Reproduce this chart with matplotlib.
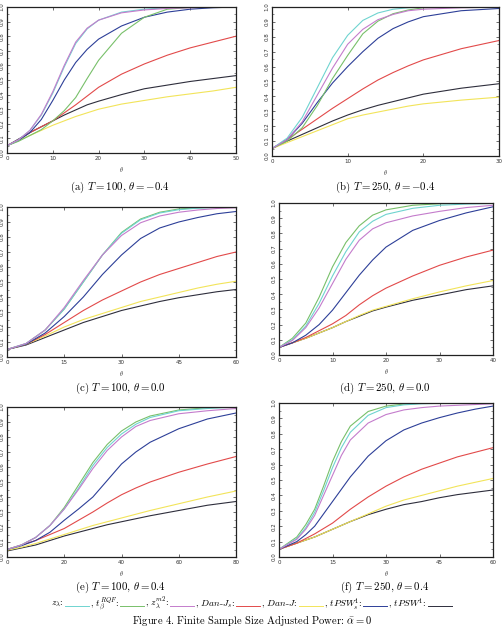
import matplotlib
matplotlib.use("Agg")
import matplotlib.pyplot as plt
from matplotlib.lines import Line2D
from matplotlib.ticker import MultipleLocator

plt.rcParams['mathtext.fontset'] = 'cm'
plt.rcParams['font.family'] = ['DejaVu Sans']

# ---------------- data ----------------
# (a) T=100, theta=-0.4
a_x = [0, 2.5, 5, 7.5, 10, 12.5, 15, 17.5, 20, 25, 30, 35, 40, 45, 50]
a_zl = [0.05, 0.09, 0.155, 0.26, 0.41, 0.59, 0.75, 0.85, 0.91, 0.965, 0.985, 0.995, 1.0, 1.0, 1.0]
a_trqf = [0.05, 0.08, 0.12, 0.16, 0.22, 0.29, 0.38, 0.51, 0.635, 0.82, 0.93, 0.985, 0.997, 1.0, 1.0]
a_zm2 = [0.05, 0.09, 0.155, 0.265, 0.42, 0.60, 0.76, 0.855, 0.91, 0.96, 0.98, 0.99, 0.995, 1.0, 1.0]
a_danjs = [0.05, 0.09, 0.14, 0.18, 0.22, 0.275, 0.33, 0.39, 0.45, 0.54, 0.61, 0.67, 0.72, 0.76, 0.80]
a_danj = [0.05, 0.085, 0.12, 0.155, 0.19, 0.22, 0.25, 0.275, 0.30, 0.335, 0.36, 0.385, 0.405, 0.425, 0.45]
a_tpsws = [0.05, 0.085, 0.14, 0.23, 0.36, 0.50, 0.62, 0.71, 0.78, 0.87, 0.93, 0.965, 0.985, 0.995, 1.0]
a_tpsw = [0.05, 0.095, 0.14, 0.18, 0.22, 0.26, 0.295, 0.33, 0.355, 0.40, 0.44, 0.465, 0.49, 0.51, 0.53]

# (b) T=250, theta=-0.4
b_x = [0, 2, 4, 6, 8, 10, 12, 14, 16, 18, 20, 25, 30]
b_zl = [0.05, 0.12, 0.26, 0.46, 0.66, 0.81, 0.91, 0.96, 0.985, 0.995, 1.0, 1.0, 1.0]
b_trqf = [0.05, 0.10, 0.19, 0.34, 0.52, 0.675, 0.82, 0.905, 0.955, 0.98, 0.995, 1.0, 1.0]
b_zm2 = [0.05, 0.11, 0.23, 0.41, 0.59, 0.75, 0.85, 0.915, 0.95, 0.975, 0.985, 0.995, 1.0]
b_danjs = [0.05, 0.11, 0.18, 0.25, 0.32, 0.385, 0.45, 0.51, 0.56, 0.605, 0.645, 0.72, 0.775]
b_danj = [0.05, 0.09, 0.13, 0.17, 0.21, 0.25, 0.275, 0.295, 0.315, 0.335, 0.35, 0.375, 0.395]
b_tpsws = [0.05, 0.11, 0.22, 0.36, 0.49, 0.60, 0.70, 0.79, 0.855, 0.90, 0.935, 0.975, 0.99]
b_tpsw = [0.05, 0.10, 0.145, 0.19, 0.235, 0.275, 0.31, 0.34, 0.365, 0.39, 0.415, 0.455, 0.485]

# (c) T=100, theta=0.0
c_x = [0, 5, 10, 15, 20, 25, 30, 35, 40, 45, 50, 55, 60]
c_zl = [0.05, 0.09, 0.18, 0.32, 0.50, 0.68, 0.825, 0.915, 0.96, 0.982, 0.992, 0.997, 1.0]
c_trqf = [0.05, 0.09, 0.18, 0.32, 0.50, 0.68, 0.83, 0.92, 0.965, 0.987, 0.995, 1.0, 1.0]
c_zm2 = [0.05, 0.09, 0.18, 0.33, 0.51, 0.68, 0.81, 0.895, 0.94, 0.965, 0.98, 0.99, 0.995]
c_danjs = [0.05, 0.085, 0.15, 0.23, 0.31, 0.38, 0.44, 0.50, 0.55, 0.59, 0.63, 0.67, 0.70]
c_danj = [0.05, 0.085, 0.14, 0.20, 0.25, 0.29, 0.33, 0.37, 0.40, 0.43, 0.46, 0.485, 0.505]
c_tpsws = [0.05, 0.085, 0.16, 0.27, 0.40, 0.55, 0.68, 0.79, 0.86, 0.90, 0.93, 0.955, 0.97]
c_tpsw = [0.05, 0.08, 0.13, 0.18, 0.23, 0.27, 0.31, 0.34, 0.37, 0.395, 0.415, 0.435, 0.45]

# (d) T=250, theta=0.0
d_x = [0, 2.5, 5, 7.5, 10, 12.5, 15, 17.5, 20, 25, 30, 35, 40]
d_zl = [0.05, 0.10, 0.19, 0.34, 0.52, 0.68, 0.81, 0.88, 0.925, 0.965, 0.985, 0.993, 0.997]
d_trqf = [0.05, 0.11, 0.21, 0.38, 0.58, 0.74, 0.85, 0.92, 0.955, 0.985, 0.995, 1.0, 1.0]
d_zm2 = [0.05, 0.095, 0.18, 0.31, 0.47, 0.63, 0.755, 0.83, 0.87, 0.915, 0.945, 0.97, 0.985]
d_danjs = [0.05, 0.08, 0.115, 0.16, 0.205, 0.26, 0.33, 0.39, 0.44, 0.52, 0.59, 0.645, 0.69]
d_danj = [0.05, 0.08, 0.11, 0.145, 0.18, 0.22, 0.26, 0.295, 0.32, 0.37, 0.415, 0.455, 0.49]
d_tpsws = [0.05, 0.08, 0.13, 0.20, 0.295, 0.41, 0.525, 0.625, 0.71, 0.82, 0.885, 0.935, 0.975]
d_tpsw = [0.05, 0.08, 0.11, 0.145, 0.18, 0.22, 0.255, 0.29, 0.315, 0.36, 0.395, 0.43, 0.455]

# (e) T=100, theta=0.4
e_x = [0, 5, 10, 15, 20, 25, 30, 35, 40, 45, 50, 60, 70, 80]
e_zl = [0.05, 0.08, 0.13, 0.21, 0.32, 0.46, 0.61, 0.73, 0.82, 0.885, 0.93, 0.975, 0.99, 1.0]
e_trqf = [0.05, 0.08, 0.13, 0.21, 0.33, 0.48, 0.63, 0.75, 0.84, 0.90, 0.94, 0.98, 0.995, 1.0]
e_zm2 = [0.05, 0.08, 0.13, 0.21, 0.32, 0.45, 0.59, 0.71, 0.80, 0.87, 0.91, 0.955, 0.975, 0.99]
e_danjs = [0.05, 0.08, 0.11, 0.15, 0.19, 0.245, 0.30, 0.36, 0.415, 0.46, 0.50, 0.565, 0.62, 0.67]
e_danj = [0.045, 0.065, 0.09, 0.12, 0.15, 0.18, 0.21, 0.235, 0.26, 0.285, 0.31, 0.355, 0.40, 0.44]
e_tpsws = [0.05, 0.075, 0.11, 0.165, 0.245, 0.32, 0.40, 0.51, 0.62, 0.70, 0.765, 0.855, 0.92, 0.96]
e_tpsw = [0.04, 0.06, 0.08, 0.11, 0.14, 0.165, 0.19, 0.215, 0.235, 0.255, 0.275, 0.31, 0.345, 0.37]

# (f) T=250, theta=0.4
f_x = [0, 5, 7.5, 10, 12.5, 15, 17.5, 20, 25, 30, 35, 40, 45, 50, 55, 60]
f_zl = [0.05, 0.12, 0.19, 0.29, 0.43, 0.58, 0.71, 0.81, 0.92, 0.97, 0.988, 0.995, 0.998, 1.0, 1.0, 1.0]
f_trqf = [0.05, 0.13, 0.21, 0.31, 0.46, 0.62, 0.75, 0.85, 0.945, 0.98, 0.993, 0.998, 1.0, 1.0, 1.0, 1.0]
f_zm2 = [0.05, 0.115, 0.18, 0.27, 0.40, 0.53, 0.66, 0.76, 0.87, 0.925, 0.955, 0.97, 0.98, 0.985, 0.99, 0.995]
f_danjs = [0.05, 0.09, 0.12, 0.15, 0.185, 0.22, 0.265, 0.31, 0.39, 0.46, 0.52, 0.57, 0.61, 0.65, 0.68, 0.71]
f_danj = [0.05, 0.09, 0.11, 0.13, 0.155, 0.18, 0.205, 0.23, 0.28, 0.33, 0.37, 0.40, 0.43, 0.46, 0.485, 0.51]
f_tpsws = [0.05, 0.10, 0.145, 0.20, 0.28, 0.36, 0.44, 0.52, 0.655, 0.755, 0.825, 0.87, 0.905, 0.935, 0.96, 0.98]
f_tpsw = [0.05, 0.09, 0.11, 0.13, 0.155, 0.18, 0.205, 0.23, 0.275, 0.31, 0.34, 0.36, 0.385, 0.405, 0.42, 0.435]

x_maxes = [50, 30, 60, 40, 80, 60]
x_steps = [10, 10, 15, 10, 20, 15]
captions = [r"(a) $T = 100,\, \theta = -0.4$", r"(b) $T = 250,\, \theta = -0.4$",
            r"(c) $T = 100,\, \theta = 0.0$", r"(d) $T = 250,\, \theta = 0.0$",
            r"(e) $T = 100,\, \theta = 0.4$", r"(f) $T = 250,\, \theta = 0.4$"]

legend_labels = [r"$z_{\lambda}$:", r", $t_{\beta}^{RQF}$:", r", $z_{\lambda}^{m2}$:",
                 r", $Dan$-$J_s$:", r", $Dan$-$J$:", r", $tPSW_s^1$:", r", $tPSW^1$:"]

# ---------------- styling ----------------
col_zl = '#6fd4d0'
col_trqf = '#78c06a'
col_zm2 = '#c47ccc'
col_danjs = '#e24a4a'
col_danj = '#f2e45a'
col_tpsws = '#2d3f98'
col_tpsw = '#2e2e3c'
colors = [col_zl, col_trqf, col_zm2, col_danjs, col_danj, col_tpsws, col_tpsw]

W, H = 504, 628
fig = plt.figure(figsize=(W / 100, H / 100), dpi=100)

# axes boxes in pixels: left, right, top, bottom
boxes = [(7, 236, 7, 153), (272, 499, 7, 156),
         (7, 236, 207, 357), (279, 493, 203, 355),
         (7, 236, 407, 557), (279, 493, 403, 557)]
cap_pos = [(120, 187), (385, 187), (120, 388), (385, 388), (120, 587), (385, 587)]

panels = [
    (a_x, [a_zl, a_trqf, a_zm2, a_danjs, a_danj, a_tpsws, a_tpsw]),
    (b_x, [b_zl, b_trqf, b_zm2, b_danjs, b_danj, b_tpsws, b_tpsw]),
    (c_x, [c_zl, c_trqf, c_zm2, c_danjs, c_danj, c_tpsws, c_tpsw]),
    (d_x, [d_zl, d_trqf, d_zm2, d_danjs, d_danj, d_tpsws, d_tpsw]),
    (e_x, [e_zl, e_trqf, e_zm2, e_danjs, e_danj, e_tpsws, e_tpsw]),
    (f_x, [f_zl, f_trqf, f_zm2, f_danjs, f_danj, f_tpsws, f_tpsw]),
]
# drawing order: lower curves first so top ones lie over
order = [6, 4, 3, 5, 1, 0, 2]

for i, (xs, series) in enumerate(panels):
    l, r, t, b = boxes[i]
    ax = fig.add_axes([l / W, 1 - b / H, (r - l) / W, (b - t) / H])
    for k in order:
        ax.plot(xs, series[k], color=colors[k], lw=0.8)
    ax.set_xlim(0, x_maxes[i])
    ax.set_ylim(0, 1)
    ax.xaxis.set_major_locator(MultipleLocator(x_steps[i]))
    ax.yaxis.set_major_locator(MultipleLocator(0.1))
    ax.yaxis.set_minor_locator(MultipleLocator(0.05))
    ax.tick_params(which='both', direction='in', top=True, right=True,
                   labelsize=4, colors='#333333', pad=2)
    ax.tick_params(which='major', length=2.5, width=0.5)
    ax.tick_params(which='minor', length=1.5, width=0.4)
    ax.set_yticklabels([f"{v:.1f}" for v in ax.get_yticks()], rotation=90, va='center')
    for s in ax.spines.values():
        s.set_linewidth(0.9)
        s.set_color('#222222')
    ax.set_xlabel(r"$\theta$", fontsize=4.5, labelpad=3, color='#333333')
    cx, cy = cap_pos[i]
    fig.text(cx / W, 1 - cy / H, captions[i], ha='center', va='center',
             fontsize=7.8, family='cmr10')

# ---------------- legend row ----------------
fig.canvas.draw()
renderer = fig.canvas.get_renderer()
leg_y = 1 - 604 / H
line_len = 24
gap = 1
pieces = []
xpos = 0.0
for lab in legend_labels:
    t = fig.text(0, leg_y, lab, ha='left', va='center', fontsize=6.8, family='cmr10')
    w = t.get_window_extent(renderer).width
    pieces.append((t, xpos, w))
    xpos += w + gap + line_len + gap
total = xpos
start = 252 - total / 2
for (t, px, w), c in zip(pieces, colors):
    t.set_x((start + px) / W)
    lx0 = start + px + w + gap
    fig.add_artist(Line2D([lx0 / W, (lx0 + line_len) / W], [leg_y - 1.5 / H, leg_y - 1.5 / H],
                          transform=fig.transFigure, color=c, lw=0.7))

fig.text(252 / W, 1 - 620 / H, r"Figure 4. Finite Sample Size Adjusted Power: $\bar{\alpha} = 0$",
         ha='center', va='center', fontsize=7.6, family='cmr10')

fig.savefig("out.png", dpi=100)
